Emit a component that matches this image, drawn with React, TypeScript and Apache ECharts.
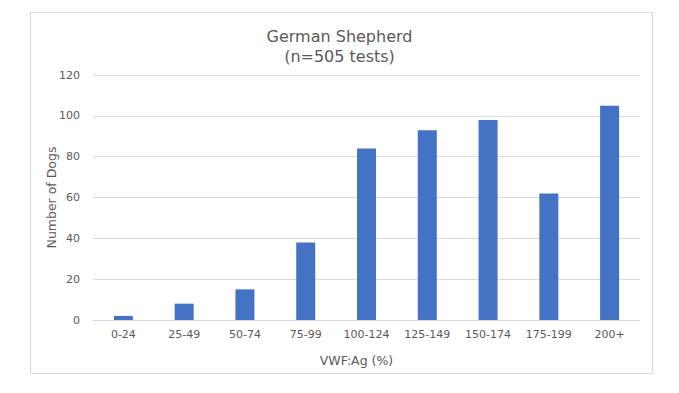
import React, { useEffect, useRef } from "react";
import * as echarts from "echarts";

const categories = ["0-24", "25-49", "50-74", "75-99", "100-124", "125-149", "150-174", "175-199", "200+"];
const dogCounts = [2, 8, 15, 38, 84, 93, 98, 62, 105];
const titleLines = ["German Shepherd", "(n=505 tests)"];
const xAxisName = "VWF:Ag (%)";
const yAxisName = "Number of Dogs";

const FONT = "'DejaVu Sans', Verdana, sans-serif";
const TEXT = "#595959";

export default function App() {
  const ref = useRef<HTMLDivElement>(null);
  useEffect(() => {
    if (!ref.current) return;
    const chart = echarts.init(ref.current, undefined, { renderer: "svg" });
    chart.setOption({
      animation: false,
      backgroundColor: "#ffffff",
      textStyle: { fontFamily: FONT },
      title: {
        text: titleLines.join("\n"),
        left: "center",
        top: 21,
        textStyle: { fontFamily: FONT, fontSize: 16, fontWeight: "normal", color: TEXT, lineHeight: 20 },
      },
      graphic: [
        {
          type: "rect",
          shape: { x: 30.5, y: 12.5, width: 622, height: 361 },
          style: { fill: "none", stroke: "#d9d9d9", lineWidth: 1 },
          silent: true,
          z: -1,
        },
      ],
      grid: { left: 93, right: 39, top: 75, bottom: 73 },
      xAxis: {
        type: "category",
        data: categories,
        name: xAxisName,
        nameLocation: "middle",
        nameGap: 34,
        nameMoveOverlap: false,
        nameTextStyle: { fontFamily: FONT, fontSize: 12.5, color: TEXT, padding: [0, 20, 0, 0] },
        axisLine: { lineStyle: { color: "#d9d9d9" } },
        axisTick: { show: false },
        axisLabel: { fontFamily: FONT, fontSize: 11, color: TEXT, margin: 9 },
      },
      yAxis: {
        type: "value",
        min: 0,
        max: 120,
        interval: 20,
        name: yAxisName,
        nameLocation: "middle",
        nameGap: 35,
        nameMoveOverlap: false,
        nameTextStyle: { fontFamily: FONT, fontSize: 12.5, color: TEXT },
        axisLine: { show: false },
        axisTick: { show: false },
        axisLabel: { fontFamily: FONT, fontSize: 11, color: TEXT, margin: 13 },
        splitLine: { lineStyle: { color: "#d9d9d9" } },
      },
      series: [
        {
          type: "bar",
          data: dogCounts,
          barWidth: 19,
          itemStyle: { color: "#4472c4" },
        },
      ],
    });
    return () => chart.dispose();
  }, []);
  return <div ref={ref} style={{ position: "absolute", left: 0, top: 0, width: 679, height: 393 }} />;
}
